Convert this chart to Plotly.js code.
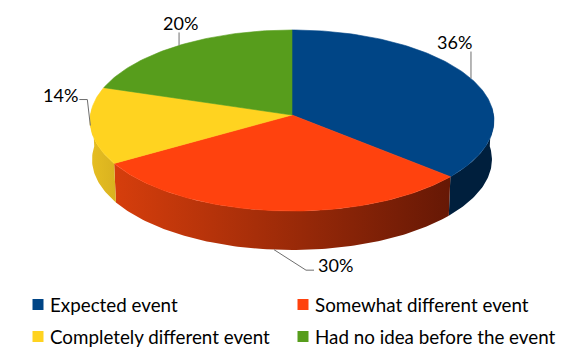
<!DOCTYPE html>
<html>
<head>
<meta charset="utf-8">
<script src="https://cdn.plot.ly/plotly-3.0.1.min.js"></script>
<style>html,body{margin:0;padding:0;background:#fff}#chart{width:580px;height:358px}</style>
</head>
<body>
<div id="chart"></div>
<script>
// --- data ---
const categories = ["Expected event", "Somewhat different event", "Completely different event", "Had no idea before the event"];
const shares = [36.4, 29.9, 13.7, 20];
const colors = ["#004586", "#FF420E", "#FFD320", "#579D1C"];
const sideLeftColors = ["#001F3D", "#D63E0C", "#E6BE22", "#3F7214"];
const sideRightColors = ["#001F3D", "#661805", "#D9B21F", "#3F7214"];

// --- tilted disc geometry (axis units are page pixels) ---
const CX = 292, CY = 115, RX = 201.6, RY = 90.2, PERSP = 0.0608, DEPTH = 39, BOTTOM_SCALE = 0.99;
const project = (deg, drop) => {
  const t = deg * Math.PI / 180, w = 1 + PERSP * Math.cos(t), s = drop ? BOTTOM_SCALE : 1;
  return [CX + s * RX * Math.sin(t) / w, CY + (drop ? DEPTH : 0) - RY * Math.cos(t) / w];
};
const arc = (a0, a1, drop) => {
  const n = Math.max(2, Math.ceil(Math.abs(a1 - a0))), out = [];
  for (let i = 0; i <= n; i++) out.push(project(a0 + (a1 - a0) * i / n, drop));
  return out;
};

const total = shares.reduce((a, b) => a + b, 0);
let cum = 0;
const slices = shares.map(v => { const a0 = cum / total * 360; cum += v; return {a0, a1: cum / total * 360, v}; });

const traces = [];
// side walls (front half only)
slices.forEach((s, i) => {
  const a0 = Math.max(s.a0, 85), a1 = Math.min(s.a1, 275);
  if (a1 <= a0) return;
  const pts = arc(a0, a1, false).concat(arc(a1, a0, true));
  pts.push(pts[0]);
  traces.push({
    type: "scatter", mode: "lines", x: pts.map(p => p[0]), y: pts.map(p => p[1]),
    fill: "toself", line: {width: 0, color: sideLeftColors[i]},
    fillgradient: {type: "horizontal", colorscale: [[0, sideLeftColors[i]], [1, sideRightColors[i]]]},
    showlegend: false, hoverinfo: "skip"
  });
});
// top faces
slices.forEach((s, i) => {
  const pts = [[CX, CY]].concat(arc(s.a0, s.a1, false));
  pts.push([CX, CY]);
  traces.push({
    type: "scatter", mode: "lines", x: pts.map(p => p[0]), y: pts.map(p => p[1]),
    fill: "toself", fillcolor: colors[i], line: {width: 0.6, color: colors[i]},
    name: categories[i], showlegend: false, hoverinfo: "skip"
  });
});
// leader lines + percent labels, anchored on each slice's mid angle
const leaderStyle = [
  {drop: false, elbow: [[0, -27]], label: [-16, -37]},
  {drop: true,  elbow: [[32, 20.5], [40, 20.5]], label: [61, 15]},
  {drop: false, elbow: [[-3, -26], [-11, -26]], label: [-30, -31]},
  {drop: false, elbow: [[0, -13]], label: [1, -22]}
];
const annotations = [];
slices.forEach((s, i) => {
  const st = leaderStyle[i], o = project((s.a0 + s.a1) / 2, st.drop);
  const pts = [o].concat(st.elbow.map(e => [o[0] + e[0], o[1] + e[1]]));
  traces.push({
    type: "scatter", mode: "lines", x: pts.map(p => p[0]), y: pts.map(p => p[1]),
    line: {width: 1, color: "#6e6e6e"}, showlegend: false, hoverinfo: "skip"
  });
  annotations.push({
    x: o[0] + st.label[0], y: o[1] + st.label[1], xref: "x", yref: "y",
    text: Math.round(s.v / total * 100) + "%", showarrow: false,
    font: {family: "Lato, 'Open Sans', sans-serif", size: 18, color: "#000"},
    xanchor: "center", yanchor: "middle"
  });
});
// legend rows
const LEG_X = [38, 303], LEG_Y = [304.5, 336.5], LEG_TEXT_GAP = 10;
categories.forEach((c, i) => {
  const lx = LEG_X[i % 2], ly = LEG_Y[i >> 1];
  traces.push({
    type: "scatter", mode: "markers", x: [lx], y: [ly],
    marker: {symbol: "square", size: 11, color: colors[i]},
    name: c, showlegend: false, hoverinfo: "skip", cliponaxis: false
  });
  annotations.push({
    x: lx + LEG_TEXT_GAP, y: ly - 0.5, xref: "x", yref: "y", text: c, showarrow: false,
    font: {family: "Lato, 'Open Sans', sans-serif", size: 18.8, color: "#000"},
    xanchor: "left", yanchor: "middle"
  });
});

const layout = {
  width: 580, height: 358, margin: {l: 0, r: 0, t: 0, b: 0},
  paper_bgcolor: "#fff", plot_bgcolor: "#fff", showlegend: false, hovermode: false,
  xaxis: {range: [0, 580], visible: false, fixedrange: true},
  yaxis: {range: [358, 0], visible: false, fixedrange: true},
  annotations
};
Plotly.newPlot("chart", traces, layout, {displayModeBar: false, staticPlot: true});
</script>
</body>
</html>
